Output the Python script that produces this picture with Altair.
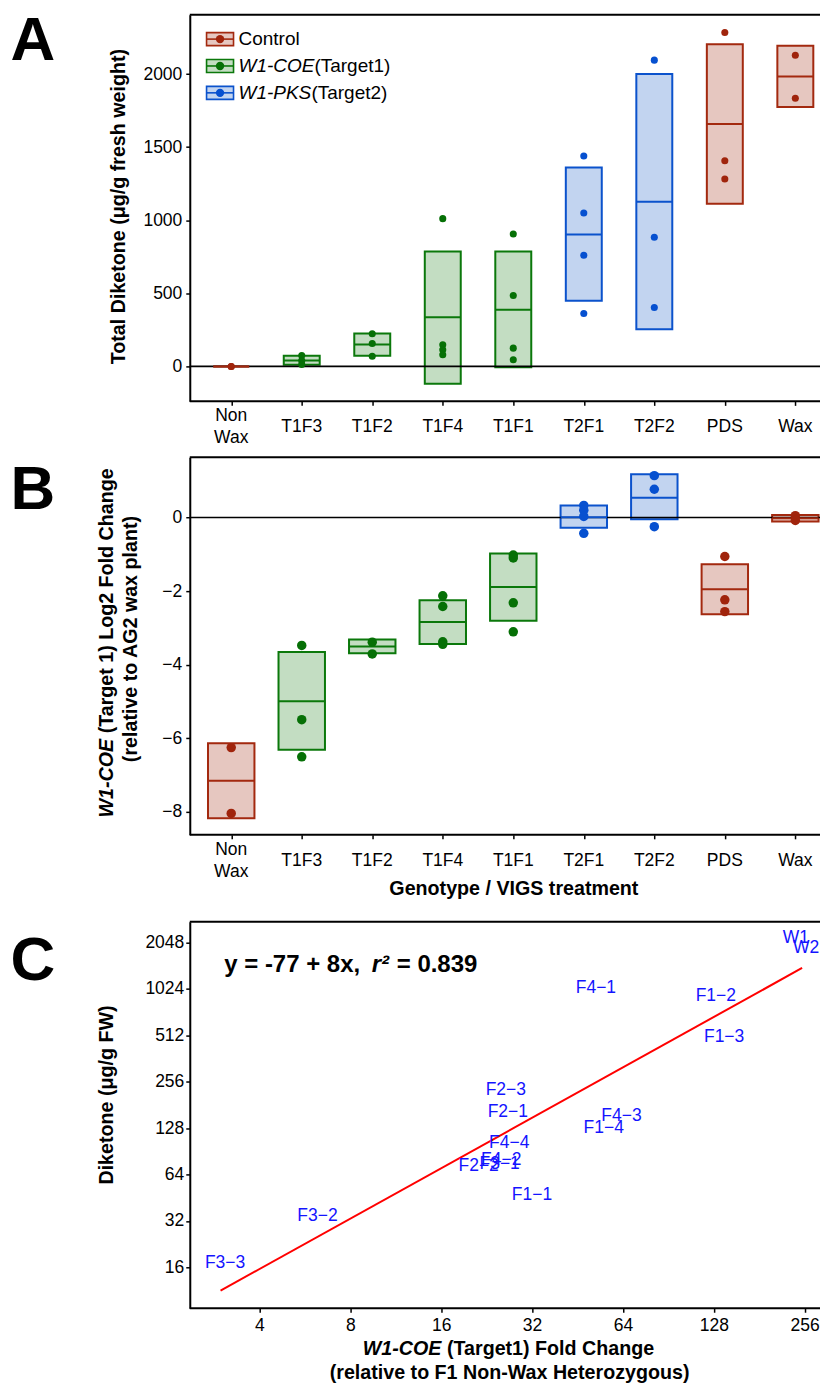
import altair as alt
import pandas as pd

# ---------------- data ----------------
categories = ["Non Wax", "T1F3", "T1F2", "T1F4", "T1F1", "T2F1", "T2F2", "PDS", "Wax"]
category_group = ["Control", "W1-COE", "W1-COE", "W1-COE", "W1-COE", "W1-PKS", "W1-PKS", "Control", "Control"]
groups = ["Control", "W1-COE", "W1-PKS"]
group_italic = ["", "W1-COE", "W1-PKS"]
group_plain = ["Control", "(Target1)", "(Target2)"]

# Panel A: total diketone (ug/g fresh weight)
a_low = [0, 11, 73, -118, -5, 449, 255, 1113, 1774]
a_mean = [0, 41, 150, 337, 387, 902, 1127, 1658, 1983]
a_high = [0, 73, 225, 786, 786, 1361, 2001, 2204, 2193]
a_point_cat = ["Non Wax", "Non Wax", "T1F3", "T1F3", "T1F3", "T1F2", "T1F2", "T1F2",
               "T1F4", "T1F4", "T1F4", "T1F4", "T1F1", "T1F1", "T1F1", "T1F1",
               "T2F1", "T2F1", "T2F1", "T2F1", "T2F2", "T2F2", "T2F2",
               "PDS", "PDS", "PDS", "Wax", "Wax"]
a_point_val = [0, 0, 74, 40, 14, 223, 157, 70,
               1011, 148, 114, 80, 906, 485, 125, 46,
               1439, 1050, 760, 362, 2095, 883, 403,
               2284, 1407, 1282, 2129, 1835]
a_ticks = [0, 500, 1000, 1500, 2000]

# Panel B: W1-COE log2 fold change
b_low = [-8.18, -6.32, -3.69, -3.44, -2.81, -0.28, -0.05, -2.63, -0.11]
b_mean = [-7.16, -5.00, -3.51, -2.84, -1.89, 0.01, 0.54, -1.95, -0.02]
b_high = [-6.14, -3.66, -3.32, -2.25, -0.98, 0.33, 1.18, -1.27, 0.07]
b_point_cat = ["Non Wax", "Non Wax", "T1F3", "T1F3", "T1F3", "T1F2", "T1F2",
               "T1F4", "T1F4", "T1F4", "T1F4", "T1F1", "T1F1", "T1F1", "T1F1",
               "T2F1", "T2F1", "T2F1", "T2F1", "T2F2", "T2F2", "T2F2",
               "PDS", "PDS", "PDS", "Wax", "Wax"]
b_point_val = [-6.26, -8.05, -3.48, -5.50, -6.51, -3.39, -3.71,
               -2.13, -2.42, -3.38, -3.45, -1.02, -1.10, -2.32, -3.11,
               0.33, 0.20, 0.03, -0.43, 1.14, 0.77, -0.25,
               -1.06, -2.24, -2.56, 0.05, -0.08]
b_ticks = [-8, -6, -4, -2, 0]

# Panel C: diketone vs fold change (log2 axes)
c_label = ["F3−3", "F3−2", "F2−2", "F4−2", "F3−1", "F4−4", "F2−1", "F2−3",
           "F1−1", "F1−4", "F4−3", "F4−1", "F1−2", "F1−3", "W1", "W2"]
c_fold = [3.08, 6.23, 21.3, 25.3, 25.0, 26.9, 26.6, 26.2,
          32.0, 55.3, 63.3, 52.1, 130, 138.5, 239.4, 258.7]
c_diketone = [17.1, 34.6, 73.0, 79.5, 74.9, 102.5, 163.5, 226,
              47.4, 128.3, 153, 1037, 924, 501, 2186, 1883]
c_fit_fold = [2.975, 251]
c_fit_diketone = [11.3, 1398]
c_x_ticks = [4, 8, 16, 32, 64, 128, 256]
c_y_ticks = [16, 32, 64, 128, 256, 512, 1024, 2048]

# ---------------- style / layout ----------------
FONT = "Liberation Sans"
group_stroke = ["#A3290F", "#0B780B", "#0B52CC"]
group_fill = ["#E6C7C0", "#C3DDC2", "#C2D4F0"]
group_point = ["#A0240C", "#067006", "#0650D0"]
W = 631
HA, HB = 387, 378
C_OFF = 31
HC = 387 + C_OFF
one_row = pd.DataFrame({"k": [0]})


def txt(text, x, y, size=19.7, weight="bold", style="normal", angle=0,
        align="center", baseline="middle", color="black"):
    return alt.Chart(one_row).mark_text(
        text=text, font=FONT, fontSize=size, fontWeight=weight, fontStyle=style,
        angle=angle, align=align, baseline=baseline, color=color
    ).encode(x=alt.value(x), y=alt.value(y))


def hline(y, width=2):
    return alt.Chart(one_row).mark_rule(color="black", strokeWidth=width).encode(
        x=alt.value(0), x2=alt.value(W), y=alt.value(y))


def box_panel(low, mean, high, pcat, pval, ydomain, yticks, H, box_w, pt_size, lab_center):
    grp_of = dict(zip(categories, category_group))
    df_box = pd.DataFrame({"cat": categories, "group": category_group,
                           "low": low, "mean": mean, "high": high})
    df_pt = pd.DataFrame({"cat": pcat, "group": [grp_of[c] for c in pcat], "val": pval})
    rows = []
    for c in categories:
        parts = c.split(" ")
        for j, p in enumerate(parts):
            rows.append({"cat": c, "line": p, "pos": f"{j}/{len(parts)}"})
    df_lab = pd.DataFrame(rows)

    xs = alt.Scale(type="point", padding=0, range=[41.5, 606.3])
    xax = alt.Axis(title=None, domain=False, labels=False, tickSize=4)
    ys = alt.Scale(domain=ydomain, nice=False, zero=False)
    yax = alt.Axis(title=None, values=yticks, format="d", labelPadding=4, tickSize=4)
    X = alt.X("cat:N", sort=categories, scale=xs, axis=xax)
    fill = alt.Fill("group:N", scale=alt.Scale(domain=groups, range=group_fill), legend=None)
    stroke = alt.Stroke("group:N", scale=alt.Scale(domain=groups, range=group_stroke), legend=None)
    color = alt.Color("group:N", scale=alt.Scale(domain=groups, range=group_point), legend=None)

    boxes = alt.Chart(df_box).mark_bar(width=box_w, strokeWidth=2, opacity=1).encode(
        x=X, y=alt.Y("low:Q", scale=ys, axis=yax), y2="high:Q", fill=fill, stroke=stroke)
    zero = alt.Chart(pd.DataFrame({"v": [0]})).mark_rule(color="black", strokeWidth=1.6).encode(
        y=alt.Y("v:Q", scale=ys, axis=yax), x=alt.value(0), x2=alt.value(W))
    mids = alt.Chart(df_box).mark_bar(width=box_w, strokeWidth=2, fillOpacity=0).encode(
        x=X, y=alt.Y("mean:Q", scale=ys, axis=yax), y2="mean:Q", stroke=stroke)
    pts = alt.Chart(df_pt).mark_circle(size=pt_size, opacity=1).encode(
        x=X, y=alt.Y("val:Q", scale=ys, axis=yax), color=color)
    layers = [boxes, zero, mids, pts, hline(0), hline(H)]
    for pos, dy in [("0/1", 0), ("0/2", -11), ("1/2", 11)]:
        layers.append(
            alt.Chart(df_lab).transform_filter(alt.datum.pos == pos).mark_text(
                font=FONT, fontSize=17.5, color="black", align="center", baseline="middle"
            ).encode(x=X, y=alt.value(H + lab_center + dy), text="line:N"))
    return layers


# ---------------- panel A ----------------
layers_a = box_panel(a_low, a_mean, a_high, a_point_cat, a_point_val,
                     [-239, 2405], a_ticks, HA, 36, 50, 25.8)
legend_dx = [0, 76, 73]
for i, g in enumerate(groups):
    cy = 24.3 + 26.9 * i
    lab = pd.DataFrame({"ital": [group_italic[i]], "plain": [group_plain[i]]})
    layers_a.append(alt.Chart(lab).mark_rect(fill=group_fill[i], stroke=group_stroke[i], strokeWidth=1.6).encode(
        x=alt.value(16.8), x2=alt.value(43.8), y=alt.value(cy - 6.5), y2=alt.value(cy + 6.5)))
    layers_a.append(alt.Chart(lab).mark_rule(color=group_stroke[i], strokeWidth=1.6).encode(
        x=alt.value(16.8), x2=alt.value(43.8), y=alt.value(cy)))
    layers_a.append(alt.Chart(lab).mark_circle(color=group_point[i], size=70, opacity=1).encode(
        x=alt.value(30.3), y=alt.value(cy)))
    layers_a.append(alt.Chart(lab).mark_text(font=FONT, fontSize=19, fontStyle="italic", align="left", baseline="middle").encode(
        x=alt.value(48.8), y=alt.value(cy), text="ital:N"))
    layers_a.append(alt.Chart(lab).mark_text(font=FONT, fontSize=19, align="left", baseline="middle").encode(
        x=alt.value(48.8 + legend_dx[i]), y=alt.value(cy), text="plain:N"))
layers_a.append(txt("Total Diketone (μg/g fresh weight)", -70.5, 192, angle=270))
layers_a.append(txt("A", -179.5, 45, size=62, align="left", baseline="alphabetic"))
panel_a = alt.layer(*layers_a).properties(width=W, height=HA)

# ---------------- panel B ----------------
layers_b = box_panel(b_low, b_mean, b_high, b_point_cat, b_point_val,
                     [-8.633, 1.639], b_ticks, HB, 46.5, 90, 26.2)
layers_b.append(txt("W1-COE", -83, 360.7, angle=270, style="italic", align="left"))
layers_b.append(txt("(Target 1) Log2 Fold Change", -83, 276.4, angle=270, align="left"))
layers_b.append(txt("(relative to AG2 wax plant)", -58.5, 182, angle=270))
layers_b.append(txt("Genotype / VIGS treatment", 324.5, 432))
layers_b.append(txt("B", -179.5, 52, size=62, align="left", baseline="alphabetic"))
panel_b = alt.layer(*layers_b).properties(width=W, height=HB)

# ---------------- panel C ----------------
xc = alt.Scale(type="log", base=2, domain=[2.353, 287.7], nice=False)
yc = alt.Scale(type="log", base=2, domain=[8.68, 2790], nice=False, range=[HC, C_OFF])
xcax = alt.Axis(title=None, values=c_x_ticks, format="d", domain=False, tickSize=4,
                labelBaseline="middle", labelPadding=13.3, labelFlush=False)
ycax = alt.Axis(title=None, values=c_y_ticks, format="d", tickSize=4, labelPadding=2)
df_c = pd.DataFrame({"label": c_label, "fold": c_fold, "dik": c_diketone})
df_fit = pd.DataFrame({"fold": c_fit_fold, "dik": c_fit_diketone})
fit = alt.Chart(df_fit).mark_line(color="#FF0000", strokeWidth=2).encode(
    x=alt.X("fold:Q", scale=xc, axis=xcax), y=alt.Y("dik:Q", scale=yc, axis=ycax))
labels = alt.Chart(df_c).mark_text(font=FONT, fontSize=17.5, color="#1414FF", align="center", baseline="middle").encode(
    x=alt.X("fold:Q", scale=xc, axis=xcax), y=alt.Y("dik:Q", scale=yc, axis=ycax), text="label:N")
layers_c = [fit, labels, hline(C_OFF), hline(HC),
            txt("y = -77 + 8x,", 34.5, 81.7, size=24, align="left", baseline="alphabetic"),
            txt("r²", 182.2, 81.7, size=24, style="italic", align="left", baseline="alphabetic"),
            txt("= 0.839", 207.2, 81.7, size=24, align="left", baseline="alphabetic"),
            txt("Diketone (μg/g FW)", -82.8, 204.5, angle=270),
            txt("W1-COE", 173.2, 459, style="italic", align="left"),
            txt("(Target1) Fold Change", 257.5, 459, align="left"),
            txt("(relative to F1 Non-Wax Heterozygous)", 320.2, 482.7),
            txt("C", -179.5, 89, size=62, align="left", baseline="alphabetic")]
panel_c = alt.layer(*layers_c).properties(width=W, height=HC)

chart = alt.vconcat(panel_a, panel_b, panel_c, spacing=56, bounds="flush").properties(
    padding={"left": 2, "top": 0, "right": 0, "bottom": 0}
).configure_view(stroke="transparent").configure_axis(
    labelFont=FONT, labelFontSize=17.5, labelColor="black", tickColor="black",
    tickWidth=1.5, domainColor="black", domainWidth=2, grid=False
)

chart.save("out.html", embed_options={"renderer": "svg", "actions": False})
